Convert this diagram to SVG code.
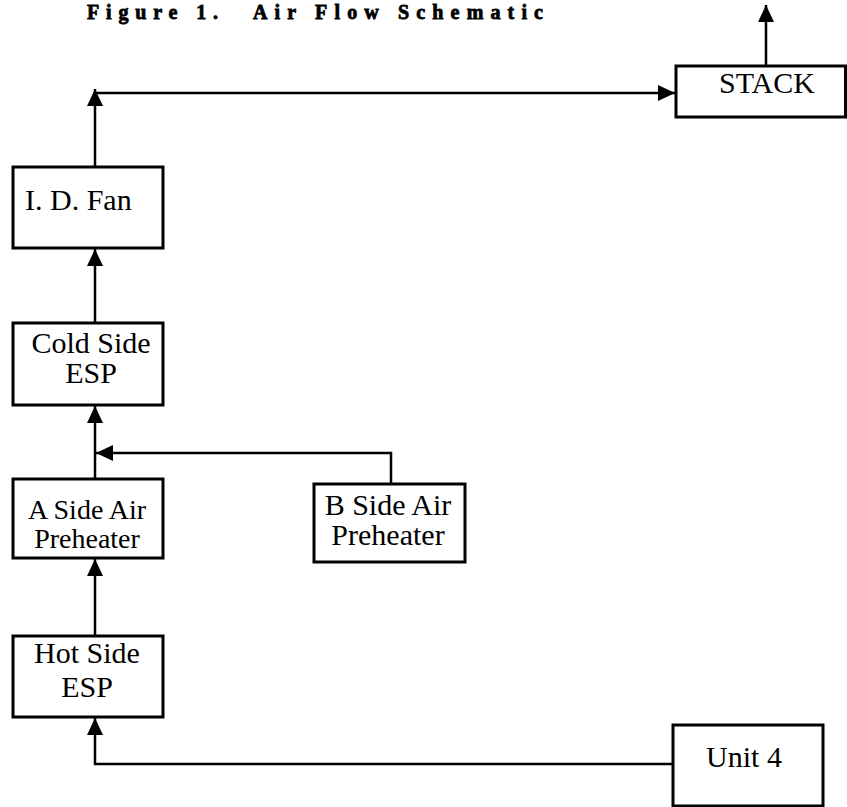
<svg xmlns="http://www.w3.org/2000/svg" width="847" height="807" viewBox="0 0 847 807">
<style>
.box{fill:#fff;stroke:#000;stroke-width:3}
.lbl{font-family:"Liberation Serif","Times New Roman",serif;font-size:30px;fill:#000;text-anchor:middle}
.title{font-family:"Liberation Serif","Times New Roman",serif;font-size:20px;font-weight:bold;fill:#000;stroke:#000;stroke-width:0.8}
.conn{fill:none;stroke:#000;stroke-width:2.5}
</style>
<defs>
<marker id="arr" markerUnits="userSpaceOnUse" markerWidth="17" markerHeight="16" refX="17" refY="8" orient="auto">
<path d="M0,0 L17,8 L0,16 z" fill="#000"/>
</marker>
</defs>
<rect width="847" height="807" fill="#fff"/>
<g id="title">
<text class="title" x="87" y="19" textLength="131" lengthAdjust="spacing">Figure 1.</text>
<text class="title" x="253" y="19" textLength="290" lengthAdjust="spacing">Air Flow Schematic</text>
</g>
<g id="connectors">
<path class="conn" d="M673,764 H95 V718" marker-end="url(#arr)"/>
<path class="conn" d="M95,636 V559" marker-end="url(#arr)"/>
<path class="conn" d="M95,479 V406" marker-end="url(#arr)"/>
<path class="conn" d="M391,484 V453 H96" marker-end="url(#arr)"/>
<path class="conn" d="M95,323 V249" marker-end="url(#arr)"/>
<path class="conn" d="M95,167 V89" marker-end="url(#arr)"/>
<path class="conn" d="M95,93 H675" marker-end="url(#arr)"/>
<path class="conn" d="M766,66 V5" marker-end="url(#arr)"/>
</g>
<g id="stack">
<rect class="box" x="676" y="66" width="169.5" height="51"/>
<text class="lbl" x="767" y="93">STACK</text>
</g>
<g id="id-fan">
<rect class="box" x="13" y="167" width="150" height="81"/>
<text class="lbl" x="25" y="210" style="text-anchor:start">I. D. Fan</text>
</g>
<g id="cold-side-esp">
<rect class="box" x="13" y="323" width="150" height="82"/>
<text class="lbl" x="91" y="353">Cold Side</text>
<text class="lbl" x="91" y="383">ESP</text>
</g>
<g id="a-side-air-preheater">
<rect class="box" x="13" y="479" width="150" height="79"/>
<text class="lbl" x="87" y="519" style="font-size:28px">A Side Air</text>
<text class="lbl" x="87" y="548" style="font-size:28px">Preheater</text>
</g>
<g id="b-side-air-preheater">
<rect class="box" x="314" y="484" width="151" height="78"/>
<text class="lbl" x="388" y="515">B Side Air</text>
<text class="lbl" x="388" y="545">Preheater</text>
</g>
<g id="hot-side-esp">
<rect class="box" x="13" y="636" width="150" height="81"/>
<text class="lbl" x="87" y="663">Hot Side</text>
<text class="lbl" x="87" y="697">ESP</text>
</g>
<g id="unit-4">
<rect class="box" x="673" y="725" width="150" height="81"/>
<text class="lbl" x="744" y="767">Unit 4</text>
</g>
</svg>
